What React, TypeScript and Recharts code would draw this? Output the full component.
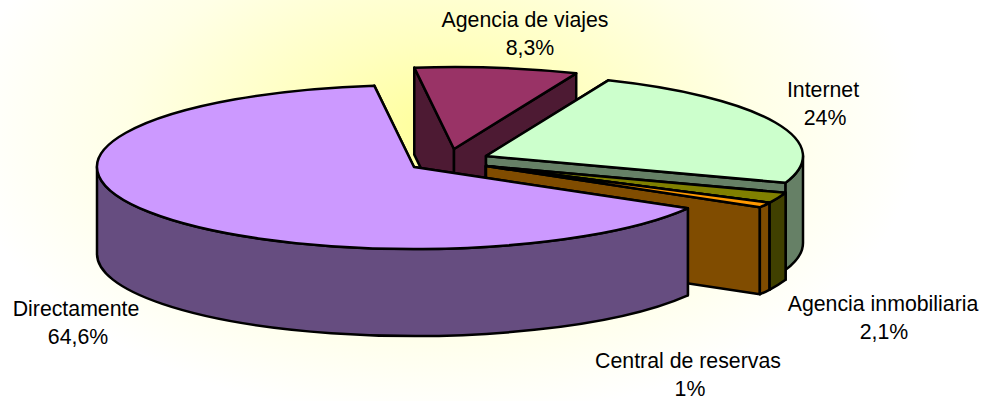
import { PieChart, Pie } from "recharts";

const categories = ["Agencia de viajes", "Internet", "Agencia inmobiliaria", "Central de reservas", "Directamente"];
const shares = [8.3, 24, 2.1, 1, 64.6];

const topColors = ["#993366", "#ccffcc", "#808000", "#ff9900", "#cc99ff"];
const sideColors = ["#4d1a33", "#668066", "#404000", "#804c00", "#664d80"];

// how far each slice is pulled out of the pie, in px
const explode = [[40, -18], [72, -11], [72, -1], [72, -1], [0, 0]];
// centre x and first baseline of each two line label, then centre x of the percent line
const labelSpots = [[525, 27, 530], [823, 97, 825], [883, 311, 884], [688, 368, 690], [76, 316, 78]];

const TILT = 0.2587;
const DEPTH = 87;
const RAD = Math.PI / 180;

const data = categories.map((name, i) => ({ name, value: shares[i] }));

function Slice3D(props: any) {
  const { cx, cy, outerRadius: rx, startAngle, endAngle, name } = props;
  const i = categories.indexOf(name);
  const ox = cx + explode[i][0];
  const oy = cy + explode[i][1];
  const ry = rx * TILT;
  const pt = (a: number, d = 0) =>
    `${ox + rx * Math.cos(a * RAD)} ${oy - ry * Math.sin(a * RAD) + d}`;
  const radial = (a: number) =>
    `M${ox} ${oy} L${pt(a)} L${pt(a, DEPTH)} L${ox} ${oy + DEPTH} Z`;
  const large = Math.abs(startAngle - endAngle) > 180 ? 1 : 0;
  // only the part of the rim below the centre faces the viewer
  const hi = Math.min(startAngle, 0);
  const lo = Math.max(endAngle, -180);
  const common = { stroke: "#000", strokeWidth: 2.5, strokeLinejoin: "round" as const };
  return (
    <g>
      <path d={radial(startAngle)} fill={sideColors[i]} {...common} />
      <path d={radial(endAngle)} fill={sideColors[i]} {...common} />
      {hi > lo && (
        <path
          d={`M${pt(hi)} A${rx} ${ry} 0 0 1 ${pt(lo)} L${pt(lo, DEPTH)} A${rx} ${ry} 0 0 0 ${pt(hi, DEPTH)} Z`}
          fill={sideColors[i]}
          {...common}
        />
      )}
      <path
        d={`M${ox} ${oy} L${pt(startAngle)} A${rx} ${ry} 0 ${large} 1 ${pt(endAngle)} Z`}
        fill={topColors[i]}
        {...common}
      />
    </g>
  );
}

function SliceLabel(props: any) {
  const i = categories.indexOf(props.name);
  const [x, y, pctX] = labelSpots[i];
  const pct = String(shares[i]).replace(".", ",") + "%";
  return (
    <text x={x} textAnchor="middle" fontFamily="Liberation Sans" fontSize={21.3} fill="#000">
      <tspan x={x} y={y}>{props.name}</tspan>
      <tspan x={pctX} y={y + 27.5}>{pct}</tspan>
    </text>
  );
}

export default function App() {
  return (
    <div
      style={{
        position: "absolute",
        left: 0,
        top: 0,
        width: 989,
        height: 401,
        background: "radial-gradient(ellipse 480px 290px at 440px 130px, #ffff99 0%, #ffffc0 30%, #ffffe6 65%, #ffffff 100%)",
      }}
    >
      <PieChart width={989} height={401} margin={{ top: 0, right: 0, bottom: 0, left: 0 }}>
        <Pie
          data={data}
          dataKey="value"
          nameKey="name"
          cx={414}
          cy={167}
          outerRadius={317}
          startAngle={97.2}
          endAngle={-262.8}
          shape={Slice3D}
          label={SliceLabel}
          labelLine={false}
          isAnimationActive={false}
        />
      </PieChart>
    </div>
  );
}
